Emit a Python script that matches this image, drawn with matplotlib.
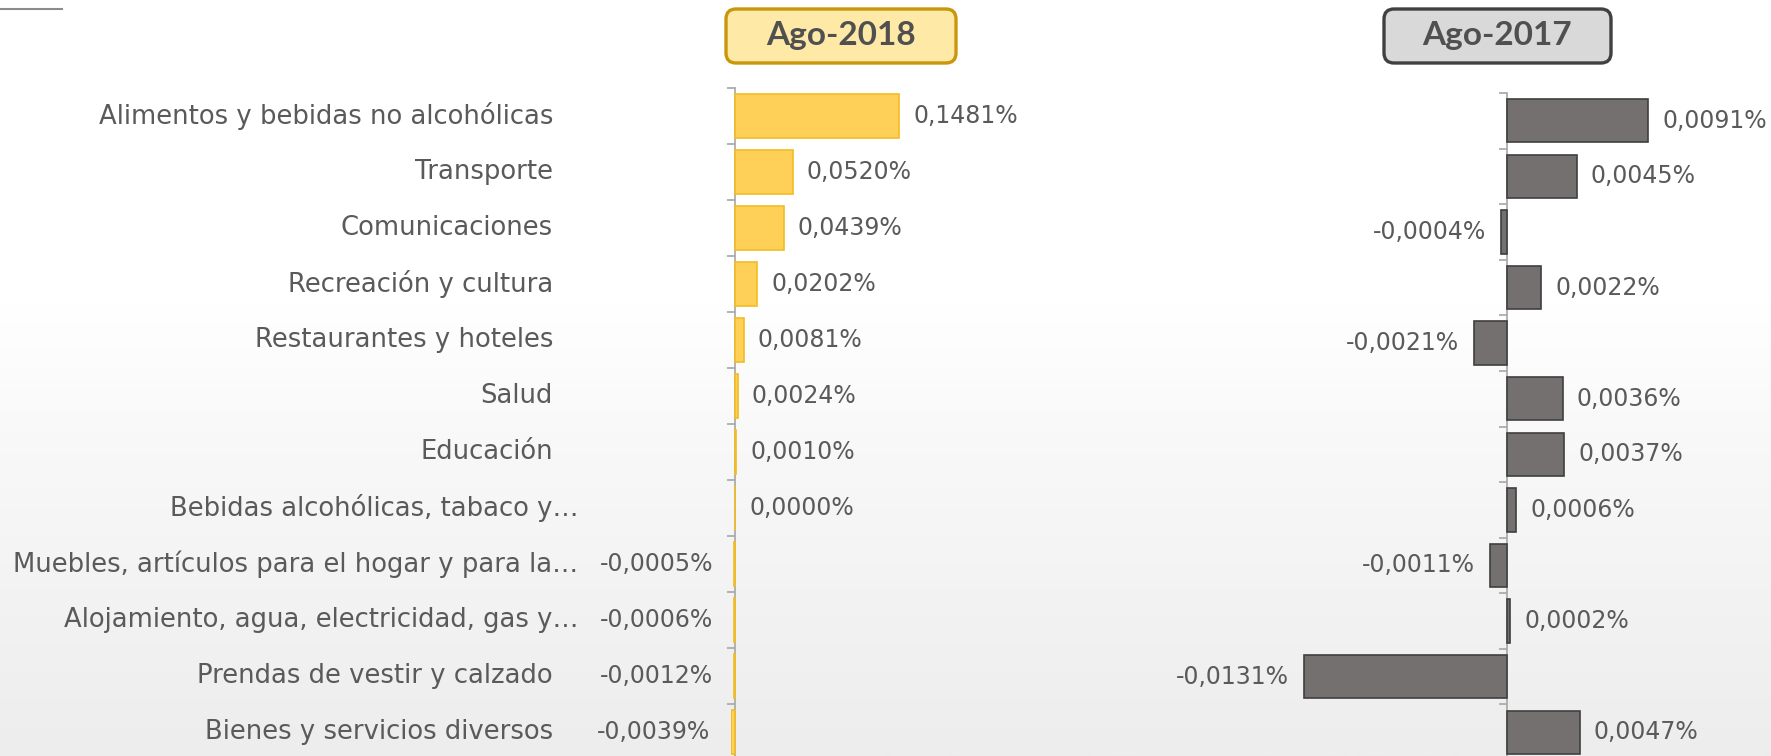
import matplotlib
matplotlib.use("Agg")
import matplotlib.pyplot as plt
import matplotlib.transforms as mtransforms
from matplotlib.patches import FancyBboxPatch
from matplotlib.colors import LinearSegmentedColormap
import numpy as np

# ── Data ──────────────────────────────────────────────────────────────────────
categories = [
    "Alimentos y bebidas no alcohólicas",
    "Transporte",
    "Comunicaciones",
    "Recreación y cultura",
    "Restaurantes y hoteles",
    "Salud",
    "Educación",
    "Bebidas alcohólicas, tabaco y…",
    "Muebles, artículos para el hogar y para la…",
    "Alojamiento, agua, electricidad, gas y…",
    "Prendas de vestir y calzado",
    "Bienes y servicios diversos",
]
ago_2018 = [0.1481, 0.0520, 0.0439, 0.0202, 0.0081, 0.0024, 0.0010,
            0.0000, -0.0005, -0.0006, -0.0012, -0.0039]
ago_2017 = [0.0091, 0.0045, -0.0004, 0.0022, -0.0021, 0.0036, 0.0037,
            0.0006, -0.0011, 0.0002, -0.0131, 0.0047]
titles = ["Ago-2018", "Ago-2017"]

# ── Colors ────────────────────────────────────────────────────────────────────
TEXT = "#5A5A5A"
AXIS = "#A6A6A6"
GOLD_FILL, GOLD_EDGE = "#FFD057", "#F2BC22"
GRAY_FILL, GRAY_EDGE = "#757070", "#3F3F3F"
FONT = ["DejaVu Sans"]
TITLE_FONT = ["Lato", "DejaVu Sans"]
CAT_SIZE = 18.6
VAL_SIZE = 17

W, H = 1771, 756
fig = plt.figure(figsize=(W / 100, H / 100), dpi=100, facecolor="white")

# soft background gradient (white top -> light gray bottom)
bg = fig.add_axes([0, 0, 1, 1], zorder=-10)
grad = np.linspace(0, 1, 256).reshape(-1, 1)
cmap_bg = LinearSegmentedColormap.from_list(
    "bg", [(0, "#EDEDEE"), (0.4, "#F8F8F8"), (0.6, "#FFFFFF"), (1, "#FFFFFF")])
bg.imshow(grad, aspect="auto", cmap=cmap_bg, origin="lower", extent=[0, 1, 0, 1])
bg.axis("off")


def fig_rect(x0, top, x1, bottom):
    return [x0 / W, 1 - bottom / H, (x1 - x0) / W, (bottom - top) / H]


def draw_panel(ax, values, fill, edge, lgap, rgap):
    y = np.arange(len(values))
    ax.barh(y, values, height=0.78, color=fill, edgecolor=edge, linewidth=1.2,
            zorder=3)
    ax.set_ylim(len(values) - 0.5, -0.5)
    ax.set_facecolor("none")
    for s in ("top", "right", "bottom"):
        ax.spines[s].set_visible(False)
    ax.spines["left"].set_position(("data", 0))
    ax.spines["left"].set_color(AXIS)
    ax.spines["left"].set_linewidth(1.2)
    ax.set_xticks([])
    ax.set_yticks(np.arange(-0.5, len(values), 1))
    ax.set_yticklabels([])
    ax.tick_params(axis="y", length=6, color=AXIS, width=1.2)

    pos_tr = mtransforms.offset_copy(ax.transData, fig=fig, x=rgap, y=0, units="dots")
    neg_tr = mtransforms.offset_copy(ax.transData, fig=fig, x=-lgap, y=0, units="dots")
    for yi, v in zip(y, values):
        lab = f"{v:.4f}%".replace(".", ",")
        if v < 0:
            ax.text(v, yi, lab, transform=neg_tr, ha="right", va="center",
                    fontsize=VAL_SIZE, color=TEXT, family=FONT, clip_on=False)
        else:
            ax.text(v, yi, lab, transform=pos_tr, ha="left", va="center",
                    fontsize=VAL_SIZE, color=TEXT, family=FONT, clip_on=False)


# ── Left panel: Ago-2018 ─────────────────────────────────────────────────────
ax1 = fig.add_axes(fig_rect(730.6, 88, 912.2, 760))
ax1.set_xlim(-0.004, 0.160)
draw_panel(ax1, ago_2018, GOLD_FILL, GOLD_EDGE, lgap=21, rgap=14)

# category labels, right-aligned left of the axis
for i, cat in enumerate(categories):
    shift = -157 if cat.endswith("…") else -182
    tr = mtransforms.offset_copy(ax1.transData, fig=fig, x=shift, y=0, units="dots")
    ax1.text(0, i, cat, transform=tr, ha="right", va="center",
             fontsize=CAT_SIZE, color=TEXT, family=FONT, clip_on=False)

# ── Right panel: Ago-2017 ────────────────────────────────────────────────────
ax2 = fig.add_axes(fig_rect(1290, 93, 1662, 760))
ax2.set_xlim(-0.014, 0.010)
draw_panel(ax2, ago_2017, GRAY_FILL, GRAY_EDGE, lgap=15, rgap=14)

# ── Title boxes ───────────────────────────────────────────────────────────────
boxes = [(726, 956, "#FFE9A6", "#C9960C"), (1384, 1611, "#D9D9D9", "#404040")]
for (x0, x1, fc, ec), title in zip(boxes, titles):
    top, bot = 9, 63
    patch = FancyBboxPatch((x0 / 100, (H - bot) / 100), (x1 - x0) / 100, (bot - top) / 100,
                           boxstyle="round,pad=0,rounding_size=0.1",
                           transform=fig.dpi_scale_trans, facecolor=fc,
                           edgecolor=ec, linewidth=2.4)
    fig.add_artist(patch)
    fig.text((x0 + x1) / 2 / W, 1 - (top + bot) / 2 / H, title, ha="center",
             va="center", fontsize=24, fontweight="bold", color="#505050",
             family=TITLE_FONT)

# short line top-left
fig.add_artist(plt.Line2D([0, 62 / W], [1 - 9 / H, 1 - 9 / H],
                          transform=fig.transFigure, color="#8C8C8C", linewidth=1.5))

fig.savefig("out.png", dpi=100, facecolor="white")
